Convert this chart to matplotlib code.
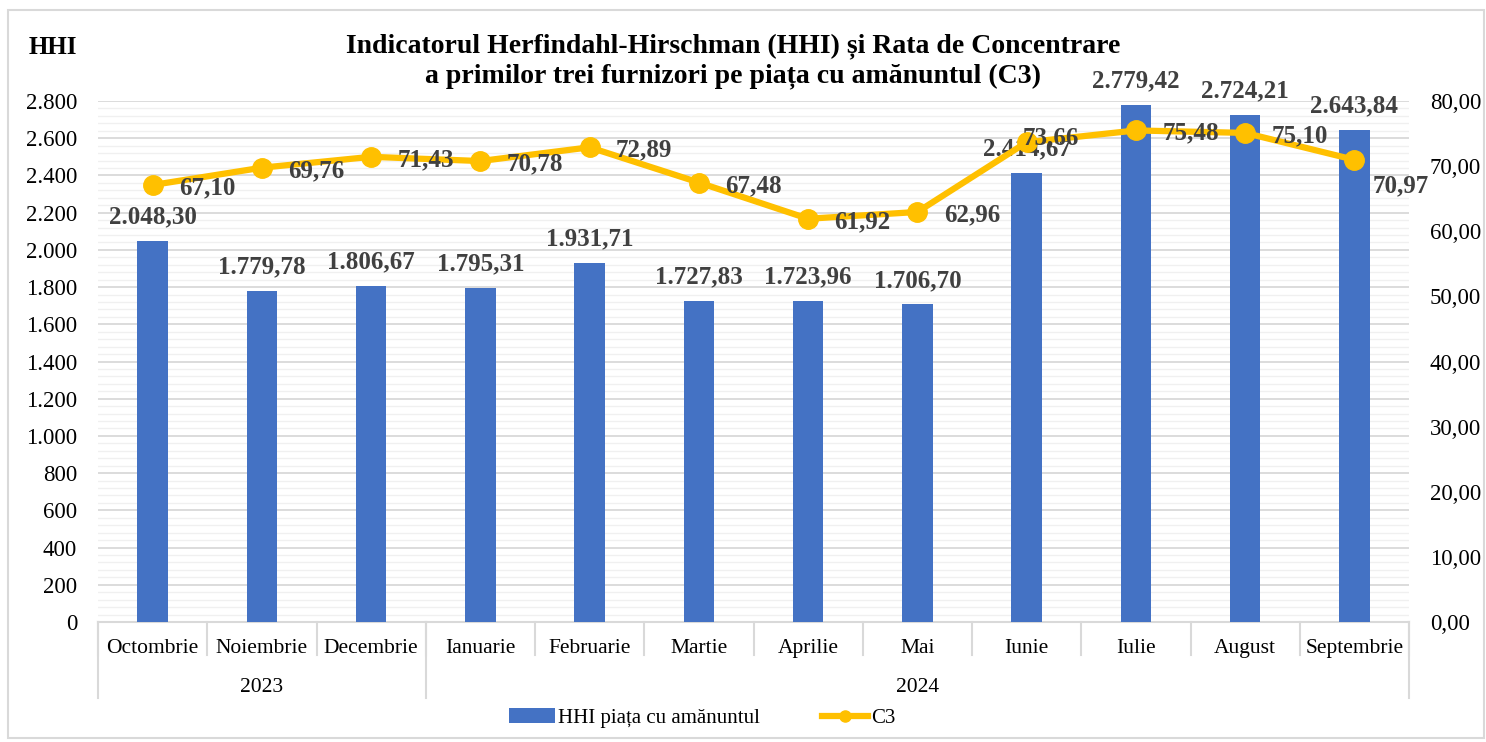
import matplotlib.pyplot as plt
from matplotlib.ticker import MultipleLocator, FuncFormatter
from matplotlib.lines import Line2D
from matplotlib.patches import Patch, Rectangle

months = ["Octombrie", "Noiembrie", "Decembrie", "Ianuarie", "Februarie", "Martie",
          "Aprilie", "Mai", "Iunie", "Iulie", "August", "Septembrie"]
years = ["2023", "2024"]
year_sizes = [3, 9]
hhi = [2048.30, 1779.78, 1806.67, 1795.31, 1931.71, 1727.83,
       1723.96, 1706.70, 2414.67, 2779.42, 2724.21, 2643.84]
c3 = [67.10, 69.76, 71.43, 70.78, 72.89, 67.48,
      61.92, 62.96, 73.66, 75.48, 75.10, 70.97]

plt.rcParams['font.family'] = ['Liberation Serif', 'DejaVu Serif']

BLUE = "#4472C4"
GOLD = "#FFC000"
LBL = "#404040"


def ro(v, dec=2):
    s = f"{v:,.{dec}f}"
    return s.replace(",", "X").replace(".", ",").replace("X", ".")


W, H = 1486, 742
fig = plt.figure(figsize=(W / 100, H / 100), dpi=100)
fig.patches.append(Rectangle((8 / W, 4 / H), 1 - 10 / W, 1 - 14 / H, transform=fig.transFigure,
                             fill=False, edgecolor="#d9d9d9", linewidth=1.5))

x0, x1, ytop, ybot = 98, 1409, 101, 622
ax = fig.add_axes([x0 / W, (H - ybot) / H, (x1 - x0) / W, (ybot - ytop) / H])
ax2 = ax.twinx()

n = len(months)
xs = list(range(n))
ax.bar(xs, hhi, width=0.28, color=BLUE, zorder=3)
ax.set_xlim(-0.5, n - 0.5)
ax.set_ylim(0, 2800)
ax.yaxis.set_major_locator(MultipleLocator(200))
ax.yaxis.set_minor_locator(MultipleLocator(40))
ax.yaxis.set_major_formatter(FuncFormatter(lambda v, p: ro(v, 0)))
ax.grid(axis='y', which='major', color="#d9d9d9", linewidth=1.3, zorder=0)
ax.grid(axis='y', which='minor', color="#f0f0f0", linewidth=1.0, zorder=0)
ax.set_axisbelow(True)
ax.tick_params(axis='y', which='both', length=0, labelsize=16.5, pad=15)
ax.set_xticks([])
for s in ["top", "left", "right"]:
    ax.spines[s].set_visible(False)
    ax2.spines[s].set_visible(False)
ax.spines["bottom"].set_color("#d9d9d9")
ax.spines["bottom"].set_linewidth(1.5)
ax2.spines["bottom"].set_visible(False)

for x, v in zip(xs, hhi):
    ax.annotate(ro(v), (x, v), xytext=(0, 9), textcoords="offset points", ha="center",
                va="bottom", fontsize=18, fontweight="bold", color=LBL, zorder=5)

ax2.plot(xs, c3, color=GOLD, linewidth=4.5, marker="o", markersize=14, zorder=4)
ax2.set_ylim(0, 80)
ax2.yaxis.set_major_locator(MultipleLocator(10))
ax2.yaxis.set_major_formatter(FuncFormatter(lambda v, p: ro(v)))
ax2.tick_params(axis='y', length=0, labelsize=16.5, pad=15)
# label placement, as the original puts a couple of them elsewhere
label_shift = {8: (-3, 3), 11: (13, -19)}
for i, (x, v) in enumerate(zip(xs, c3)):
    ax2.annotate(ro(v), (x, v), xytext=label_shift.get(i, (19, -2)), textcoords="offset points",
                 ha="left", va="center", fontsize=18, fontweight="bold", color=LBL, zorder=6)

# category axis (months + years)
tr = ax.get_xaxis_transform()
sep_col = "#d9d9d9"
for i in range(n + 1):
    ax.plot([i - 0.5, i - 0.5], [0, -0.064], transform=tr, color=sep_col, lw=1.5, clip_on=False)
for i, m in enumerate(months):
    ax.text(i, -0.050, m, transform=tr, ha="center", va="center", fontsize=15.5)
start = 0
for yr, cnt in zip(years, year_sizes):
    ax.plot([start - 0.5, start - 0.5], [0, -0.146], transform=tr, color=sep_col, lw=1.5, clip_on=False)
    ax.text(start + (cnt - 1) / 2, -0.125, yr, transform=tr, ha="center", va="center", fontsize=15.5)
    start += cnt
ax.plot([n - 0.5, n - 0.5], [0, -0.146], transform=tr, color=sep_col, lw=1.5, clip_on=False)

fig.text(733 / W, 1 - 61 / H,
         "Indicatorul Herfindahl-Hirschman (HHI) și Rata de Concentrare\na primilor trei furnizori pe piața cu amănuntul (C3)",
         ha="center", va="center", fontsize=20, fontweight="bold", linespacing=1.2)
fig.text(53 / W, 1 - 48 / H, "HHI", ha="center", va="center", fontsize=18, fontweight="bold")

handles = [Patch(facecolor=BLUE), Line2D([], [], color=GOLD, lw=4.5, marker="o", markersize=8)]
fig.legend(handles, ["HHI piața cu amănuntul", "C3"], loc="center", bbox_to_anchor=(702 / W, 1 - 718 / H),
           ncol=2, frameon=False, fontsize=15, handlelength=2.2, handletextpad=0.15, columnspacing=3.0)

fig.savefig("out.png", dpi=100)
